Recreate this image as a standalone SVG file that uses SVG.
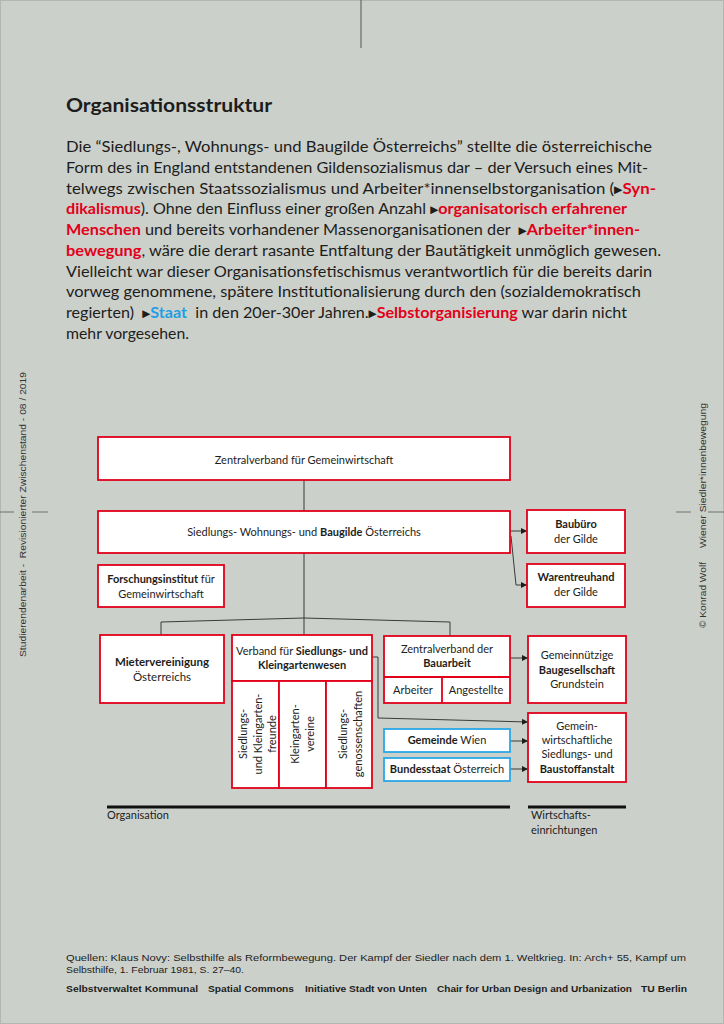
<svg xmlns="http://www.w3.org/2000/svg" width="724" height="1024" viewBox="0 0 724 1024">
<defs>
<style>
.body{font-family:Lato,"Open Sans","Liberation Sans",sans-serif;font-size:16px;fill:#1d1d1b;white-space:pre}
.r{fill:#e2001a;font-weight:bold}
.b{fill:#1e9fe3;font-weight:bold}
.tri{font-family:"DejaVu Sans",sans-serif;font-size:10.5px;fill:#1d1d1b;baseline-shift:1.5px}
.box{fill:#fff;stroke:#e2001a;stroke-width:1.8}
.bbox{fill:#fff;stroke:#2aa7e6;stroke-width:1.8}
.t{font-family:Lato,"Open Sans","Liberation Sans",sans-serif;font-size:11px;fill:#1d1d1b;text-anchor:middle}
.bd{font-weight:bold}
.con{fill:none;stroke:#3a3a3a;stroke-width:1}
.side{font-family:"Liberation Sans",Arial,sans-serif;font-size:9px;fill:#333}
.foot{font-family:"Liberation Sans",Arial,sans-serif;font-size:9px;fill:#1d1d1b}
</style>
<marker id="ah" markerUnits="userSpaceOnUse" markerWidth="6" markerHeight="6" refX="6" refY="3" orient="auto">
<path d="M0,0 L6,3 L0,6 z" fill="#1d1d1b"/>
</marker>
</defs>
<rect x="0" y="0" width="724" height="1024" fill="#ccd0cb"/>
<rect x="0.5" y="0.5" width="723" height="1023" fill="none" stroke="#b3b7b2" stroke-width="1"/>
<!-- crop marks -->
<g id="cropmarks" stroke="#6f736e" stroke-width="1">
<line x1="361" y1="0" x2="361" y2="48" stroke="#555"/>
<line x1="0" y1="512" x2="14" y2="512"/>
<line x1="32" y1="512" x2="48" y2="512"/>
<line x1="676" y1="512" x2="691" y2="512"/>
<line x1="708" y1="512" x2="724" y2="512"/>
</g>
<!-- side texts -->
<text class="side" transform="translate(25.5,657) rotate(-90)" textLength="285" lengthAdjust="spacingAndGlyphs" style="white-space:pre">Studierendenarbeit -  Revisionierter Zwischenstand - 08 / 2019</text>
<text class="side" transform="translate(705.5,628) rotate(-90)" textLength="66" lengthAdjust="spacingAndGlyphs">© Konrad Wolf</text>
<text class="side" transform="translate(705.5,548) rotate(-90)" textLength="145" lengthAdjust="spacingAndGlyphs">Wiener Siedler*innenbewegung</text>
<!-- title and body -->
<text x="66" y="112" font-family="Lato,'Open Sans','Liberation Sans',sans-serif" font-size="19.5" font-weight="bold" fill="#1d1d1b" textLength="206" lengthAdjust="spacingAndGlyphs">Organisationsstruktur</text>
<g id="bodytext">
<text class="body" x="66" y="152" textLength="586" lengthAdjust="spacingAndGlyphs">Die “Siedlungs-, Wohnungs- und Baugilde Österreichs” stellte die österreichische</text>
<text class="body" x="66" y="173" textLength="582" lengthAdjust="spacingAndGlyphs">Form des in England entstandenen Gildensozialismus dar – der Versuch eines Mit-</text>
<text class="body" x="66" y="194" textLength="590" lengthAdjust="spacingAndGlyphs">telwegs zwischen Staatssozialismus und Arbeiter*innenselbstorganisation (<tspan class="tri">▶</tspan><tspan class="r">Syn-</tspan></text>
<text class="body" x="66" y="214" textLength="561" lengthAdjust="spacingAndGlyphs"><tspan class="r">dikalismus</tspan>). Ohne den Einfluss einer großen Anzahl <tspan class="tri">▶</tspan><tspan class="r">organisatorisch erfahrener</tspan></text>
<text class="body" x="66" y="235" textLength="574" lengthAdjust="spacingAndGlyphs"><tspan class="r">Menschen</tspan> und bereits vorhandener Massenorganisationen der  <tspan class="tri">▶</tspan><tspan class="r">Arbeiter*innen-</tspan></text>
<text class="body" x="66" y="256" textLength="595" lengthAdjust="spacingAndGlyphs"><tspan class="r">bewegung</tspan>, wäre die derart rasante Entfaltung der Bautätigkeit unmöglich gewesen.</text>
<text class="body" x="66" y="277" textLength="586" lengthAdjust="spacingAndGlyphs">Vielleicht war dieser Organisationsfetischismus verantwortlich für die bereits darin</text>
<text class="body" x="66" y="297" textLength="575" lengthAdjust="spacingAndGlyphs">vorweg genommene, spätere Institutionalisierung durch den (sozialdemokratisch</text>
<text class="body" x="66" y="318" textLength="561" lengthAdjust="spacingAndGlyphs">regierten)  <tspan class="tri">▶</tspan><tspan class="b">Staat</tspan>  in den 20er-30er Jahren.<tspan class="tri">▶</tspan><tspan class="r">Selbstorganisierung</tspan> war darin nicht</text>
<text class="body" x="66" y="339" textLength="123" lengthAdjust="spacingAndGlyphs">mehr vorgesehen.</text>
</g>
<!-- connectors -->
<g id="connectors">
<path class="con" d="M304,480 V511"/>
<path class="con" d="M304,553 V635"/>
<path class="con" d="M161,635 V622 L304,618 L450,622 V636"/>
<path class="con" d="M510,531 H527" marker-end="url(#ah)"/>
<path class="con" d="M511,536 L516,585 H527" marker-end="url(#ah)"/>
<path class="con" d="M510,658 H528" marker-end="url(#ah)"/>
<path class="con" d="M372,657 H378 V718 L528,722" marker-end="url(#ah)"/>
<path class="con" d="M510,741 H528" marker-end="url(#ah)"/>
<path class="con" d="M510,769 H528" marker-end="url(#ah)"/>
</g>
<!-- nodes -->
<g id="zentralverband-gemeinwirtschaft">
<rect class="box" x="98" y="437" width="412" height="43"/>
<text class="t" x="304" y="464">Zentralverband für Gemeinwirtschaft</text>
</g>
<g id="baugilde">
<rect class="box" x="98" y="511" width="412" height="42"/>
<text class="t" x="304" y="536">Siedlungs- Wohnungs- und <tspan class="bd">Baugilde</tspan> Österreichs</text>
</g>
<g id="baubuero">
<rect class="box" x="527" y="510" width="98" height="43"/>
<text class="t" x="576" y="528"><tspan class="bd">Baubüro</tspan></text>
<text class="t" x="576" y="543">der Gilde</text>
</g>
<g id="warentreuhand">
<rect class="box" x="527" y="564" width="98" height="43"/>
<text class="t" x="576" y="581"><tspan class="bd">Warentreuhand</tspan></text>
<text class="t" x="576" y="596">der Gilde</text>
</g>
<g id="forschungsinstitut">
<rect class="box" x="98" y="565" width="126" height="42"/>
<text class="t" x="161" y="583"><tspan class="bd">Forschungsinstitut</tspan> für</text>
<text class="t" x="161" y="598">Gemeinwirtschaft</text>
</g>
<g id="mietervereinigung">
<rect class="box" x="100" y="635" width="124" height="68"/>
<text class="t" x="162" y="666" style="font-size:11.5px"><tspan class="bd">Mietervereinigung</tspan></text>
<text class="t" x="162" y="681" style="font-size:11.5px">Österreichs</text>
</g>
<g id="verband-siedlungs-kleingarten">
<rect class="box" x="232" y="635" width="140" height="46"/>
<text class="t" x="302" y="655">Verband für <tspan class="bd">Siedlungs- und</tspan></text>
<text class="t" x="302" y="669"><tspan class="bd">Kleingartenwesen</tspan></text>
<rect class="box" x="232" y="681" width="47" height="107"/>
<rect class="box" x="279" y="681" width="47" height="107"/>
<rect class="box" x="326" y="681" width="46" height="107"/>
<text class="t" transform="translate(246.5,734) rotate(-90)">Siedlungs-</text>
<text class="t" transform="translate(261.5,734) rotate(-90)">und Kleingarten-</text>
<text class="t" transform="translate(275.5,734) rotate(-90)">freunde</text>
<text class="t" transform="translate(298.5,734) rotate(-90)">Kleingarten-</text>
<text class="t" transform="translate(313.5,734) rotate(-90)">vereine</text>
<text class="t" transform="translate(346.5,734) rotate(-90)">Siedlungs-</text>
<text class="t" transform="translate(361.5,734) rotate(-90)">genossenschaften</text>
</g>
<g id="zentralverband-bauarbeit">
<rect class="box" x="384" y="636" width="126" height="67"/>
<line x1="384" y1="677" x2="510" y2="677" stroke="#e2001a" stroke-width="1.8"/>
<line x1="442" y1="677" x2="442" y2="703" stroke="#e2001a" stroke-width="1.8"/>
<text class="t" x="447" y="653">Zentralverband der</text>
<text class="t" x="447" y="667"><tspan class="bd">Bauarbeit</tspan></text>
<text class="t" x="413" y="694">Arbeiter</text>
<text class="t" x="476" y="694">Angestellte</text>
</g>
<g id="grundstein">
<rect class="box" x="528" y="636" width="98" height="67"/>
<text class="t" x="577" y="659">Gemeinnützige</text>
<text class="t" x="577" y="674"><tspan class="bd">Baugesellschaft</tspan></text>
<text class="t" x="577" y="688">Grundstein</text>
</g>
<g id="baustoffanstalt">
<rect class="box" x="528" y="713" width="98" height="69"/>
<text class="t" x="577" y="730">Gemein-</text>
<text class="t" x="577" y="744">wirtschaftliche</text>
<text class="t" x="577" y="758">Siedlungs- und</text>
<text class="t" x="577" y="773"><tspan class="bd">Baustoffanstalt</tspan></text>
</g>
<g id="gemeinde-wien">
<rect class="bbox" x="384" y="729" width="126" height="23"/>
<text class="t" x="447" y="744"><tspan class="bd">Gemeinde</tspan> Wien</text>
</g>
<g id="bundesstaat">
<rect class="bbox" x="384" y="758" width="126" height="23"/>
<text class="t" x="447" y="773"><tspan class="bd">Bundesstaat</tspan> Österreich</text>
</g>
<!-- legend bars -->
<g id="legend">
<line x1="107" y1="807" x2="510" y2="807" stroke="#111" stroke-width="3"/>
<line x1="528" y1="807" x2="626" y2="807" stroke="#111" stroke-width="3"/>
<text x="107" y="819" font-family="Lato,'Open Sans',sans-serif" font-size="11" fill="#1d1d1b">Organisation</text>
<text x="531" y="819" font-family="Lato,'Open Sans',sans-serif" font-size="11" fill="#1d1d1b">Wirtschafts-</text>
<text x="531" y="834" font-family="Lato,'Open Sans',sans-serif" font-size="11" fill="#1d1d1b">einrichtungen</text>
</g>
<!-- footer -->
<g id="footer">
<text class="foot" x="66" y="961" textLength="620" lengthAdjust="spacingAndGlyphs">Quellen: Klaus Novy: Selbsthilfe als Reformbewegung. Der Kampf der Siedler nach dem 1. Weltkrieg. In: Arch+ 55, Kampf um</text>
<text class="foot" x="66" y="973" textLength="178" lengthAdjust="spacingAndGlyphs">Selbsthilfe, 1. Februar 1981, S. 27–40.</text>
<text class="foot" x="66" y="992" font-weight="bold" textLength="132" lengthAdjust="spacingAndGlyphs">Selbstverwaltet Kommunal</text>
<text class="foot" x="208" y="992" font-weight="bold" textLength="86" lengthAdjust="spacingAndGlyphs">Spatial Commons</text>
<text class="foot" x="305" y="992" font-weight="bold" textLength="122" lengthAdjust="spacingAndGlyphs">Initiative Stadt von Unten</text>
<text class="foot" x="437" y="992" font-weight="bold" textLength="195" lengthAdjust="spacingAndGlyphs">Chair for Urban Design and Urbanization</text>
<text class="foot" x="641" y="992" font-weight="bold" textLength="46" lengthAdjust="spacingAndGlyphs">TU Berlin</text>
</g>
</svg>
